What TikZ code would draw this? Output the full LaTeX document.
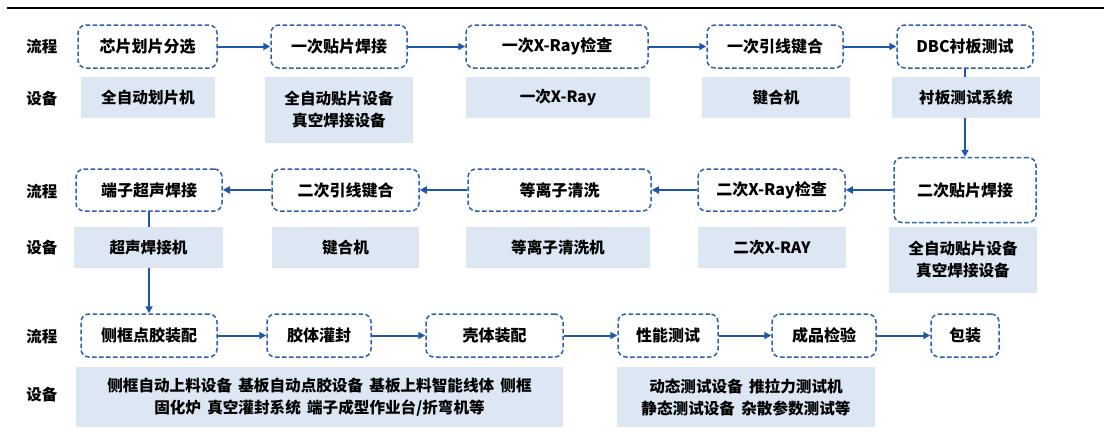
\documentclass[tikz,border=0pt]{standalone}
\usepackage{fontspec}
\setmainfont{Noto Sans CJK SC}
\usetikzlibrary{arrows.meta}
\definecolor{boxblue}{HTML}{2F60AC}
\definecolor{arrblue}{HTML}{1F56A8}
\definecolor{eqfill}{HTML}{DDE7F3}
\tikzset{
  proc/.style={draw=boxblue, line width=1.5pt, dash pattern=on 4.5pt off 2.5pt,
    rounded corners=8pt, fill=white, inner sep=0pt, align=center,
    font=\fontsize{16}{19}\selectfont\bfseries},
  equip/.style={fill=eqfill, inner sep=0pt, align=center,
    font=\fontsize{15.6}{22}\selectfont\bfseries},
  lbl/.style={inner sep=0pt, font=\fontsize{15.5}{18}\selectfont\bfseries},
  flow/.style={draw=arrblue, line width=2pt, -{Triangle[length=7pt,width=7pt]}},
}
\begin{document}
\begin{tikzpicture}[x=1pt,y=-1pt]
\useasboundingbox (0,0) rectangle (1104,434);
\draw[line width=2.5pt] (7,8) -- (1104,8);

% labels
\node[lbl] (l1) at (42,47) {流程};
\node[lbl] (l2) at (42,99) {设备};
\node[lbl] (l3) at (42,192) {流程};
\node[lbl] (l4) at (42,248) {设备};
\node[lbl] (l5) at (42,337) {流程};
\node[lbl] (l6) at (42,395) {设备};

% row 1 process
\node[proc, minimum width=139pt, minimum height=43pt] (p1) at (147.5,46.5) {芯片划片分选};
\node[proc, minimum width=136pt, minimum height=43pt] (p2) at (339,46.5) {一次贴片焊接};
\node[proc, minimum width=182pt, minimum height=43pt] (p3) at (557,46.5) {一次X-Ray检查};
\node[proc, minimum width=136pt, minimum height=43pt] (p4) at (775,46.5) {一次引线键合};
\node[proc, minimum width=136pt, minimum height=43pt] (p5) at (965,46.5) {DBC衬板测试};

% row 2 process
\node[proc, minimum width=146pt, minimum height=42pt] (q1) at (149,190) {端子超声焊接};
\node[proc, minimum width=147pt, minimum height=42pt] (q2) at (345.5,190) {二次引线键合};
\node[proc, minimum width=183pt, minimum height=42pt] (q3) at (559.5,190) {等离子清洗};
\node[proc, minimum width=147pt, minimum height=42pt] (q4) at (771.5,190) {二次X-Ray检查};
\node[proc, minimum width=142pt, minimum height=65pt] (q5) at (965,190) {二次贴片焊接};

% row 3 process
\node[proc, minimum width=136pt, minimum height=43pt] (r1) at (149,335.5) {侧框点胶装配};
\node[proc, minimum width=104pt, minimum height=43pt] (r2) at (319,335.5) {胶体灌封};
\node[proc, minimum width=137pt, minimum height=43pt] (r3) at (494.5,335.5) {壳体装配};
\node[proc, minimum width=100pt, minimum height=43pt] (r4) at (668,335.5) {性能测试};
\node[proc, minimum width=104pt, minimum height=43pt] (r5) at (824,335.5) {成品检验};
\node[proc, minimum width=68pt, minimum height=43pt] (r6) at (965,335.5) {包装};

% arrows
\draw[flow] (p1) -- (p2);
\draw[flow] (p2) -- (p3);
\draw[flow] (p3) -- (p4);
\draw[flow] (p4) -- (p5);
\draw[flow] (p5.south) -- (q5.north);
\draw[flow] (q5) -- (q4);
\draw[flow] (q4) -- (q3);
\draw[flow] (q3) -- (q2);
\draw[flow] (q2) -- (q1);
\draw[flow] (q1.south) -- (r1.north);
\draw[flow] (r1) -- (r2);
\draw[flow] (r2) -- (r3);
\draw[flow] (r3) -- (r4);
\draw[flow] (r4) -- (r5);
\draw[flow] (r5) -- (r6);

% row 1 equipment
\node[equip, minimum width=134pt, minimum height=41pt] (e1) at (148,97.5) {全自动划片机};
\node[equip, minimum width=148pt, minimum height=66pt] (e2) at (339,110) {全自动贴片设备\\真空焊接设备};
\node[equip, minimum width=184pt, minimum height=41pt] (e3) at (558,97.5) {一次X-Ray};
\node[equip, minimum width=148pt, minimum height=41pt] (e4) at (776,97.5) {键合机};
\node[equip, minimum width=148pt, minimum height=41pt] (e5) at (966,97.5) {衬板测试系统};

% row 2 equipment
\node[equip, minimum width=149pt, minimum height=41pt] (f1) at (148.5,247.5) {超声焊接机};
\node[equip, minimum width=147pt, minimum height=41pt] (f2) at (345.5,247.5) {键合机};
\node[equip, minimum width=184pt, minimum height=41pt] (f3) at (558,247.5) {等离子清洗机};
\node[equip, minimum width=148pt, minimum height=41pt] (f4) at (772,247.5) {二次X-RAY};
\node[equip, minimum width=148pt, minimum height=66pt] (f5) at (963,260) {全自动贴片设备\\真空焊接设备};

% row 3 equipment
\node[equip, minimum width=487pt, minimum height=60pt] (g1) at (319.5,397) {侧框自动上料设备\hspace{0.4em}基板自动点胶设备\hspace{0.4em}基板上料智能线体\hspace{0.4em}侧框\\固化炉\hspace{0.4em}真空灌封系统\hspace{0.4em}端子成型作业台/折弯机等};
\node[equip, minimum width=258pt, minimum height=60pt] (g2) at (746,397) {动态测试设备\hspace{0.4em}推拉力测试机\\静态测试设备\hspace{0.4em}杂散参数测试等};
\end{tikzpicture}
\end{document}
